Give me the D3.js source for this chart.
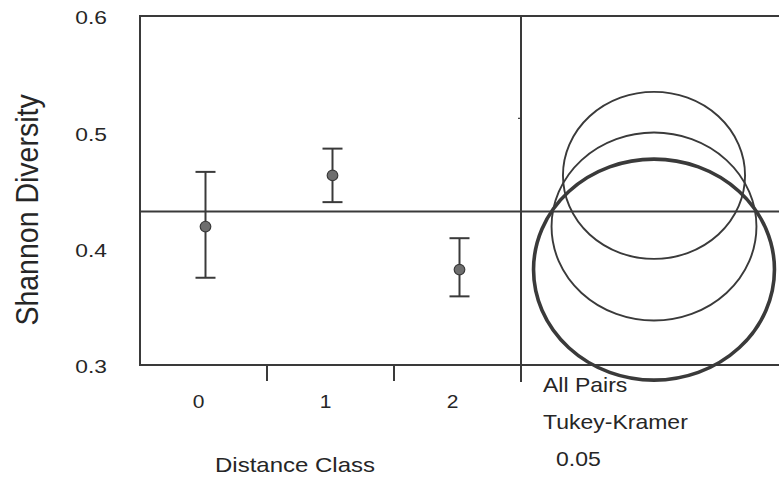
<!DOCTYPE html>
<html><head><meta charset="utf-8">
<script src="https://cdn.jsdelivr.net/npm/d3@7"></script>
<style>
html,body{margin:0;padding:0;background:#fff;}
svg{display:block;}
text{font-family:"Liberation Sans",Arial,Helvetica,sans-serif;fill:#262626;}
</style></head>
<body>
<svg id="chart" width="779" height="481"></svg>
<script>
// ---- data ----
const categories = ["0", "1", "2"];
const means      = [0.419, 0.463, 0.382];
const errUpper   = [0.466, 0.486, 0.409];
const errLower   = [0.375, 0.440, 0.359];
const grandMean  = 0.432;
// comparison circle radii (in y-axis units)
const circleRadii = [0.0808, 0.0718, 0.095];
const selectedGroup = "2";
const yTicks = [0.3, 0.4, 0.5, 0.6];
const yLabel = "Shannon Diversity";
const xLabel = "Distance Class";
const testLabels = ["All Pairs", "Tukey-Kramer", "0.05"];

// ---- layout ----
const W = 779, H = 481;
const pLeft = 140, divider = 521, pTop = 16, pBottom = 365;
const ink = "#3a3a3a";
const textStretch = 1.2;
const svg = d3.select("#chart");

const y = d3.scaleLinear().domain([0.3, 0.6]).range([pBottom, pTop]);
const x = d3.scaleBand().domain(categories).range([pLeft, divider]);

function label(px, py, str, size, anchor, stretch, rotate) {
  const gg = svg.append("g").attr("transform", `translate(${px},${py})`);
  gg.append("text")
    .attr("transform", `scale(${stretch},1)` + (rotate ? ` rotate(${rotate})` : ""))
    .attr("text-anchor", anchor).attr("font-size", size).text(str);
}

// frame
const frame = svg.append("g").attr("stroke", ink).attr("stroke-width", 2).attr("fill", "none");
frame.append("line").attr("x1", pLeft).attr("x2", pLeft).attr("y1", pTop - 1).attr("y2", pBottom + 1);
frame.append("line").attr("x1", pLeft - 1).attr("x2", W).attr("y1", pTop).attr("y2", pTop);
frame.append("line").attr("x1", pLeft - 1).attr("x2", W).attr("y1", pBottom).attr("y2", pBottom);
frame.append("line").attr("x1", divider).attr("x2", divider).attr("y1", pTop).attr("y2", pBottom + 17);
// category boundary ticks
categories.slice(1).forEach(c => {
  frame.append("line").attr("x1", x(c)).attr("x2", x(c)).attr("y1", pBottom).attr("y2", pBottom + 16);
});
// small tick on divider
frame.append("line").attr("x1", divider - 3).attr("x2", divider).attr("y1", y(0.5) - 14).attr("y2", y(0.5) - 14).attr("stroke-width", 1.2);

// grand mean line
svg.append("line").attr("x1", pLeft).attr("x2", W)
  .attr("y1", y(grandMean)).attr("y2", y(grandMean))
  .attr("stroke", ink).attr("stroke-width", 2);

// y axis labels
const yAxis = svg.append("g").attr("transform", `translate(${pLeft},0)`)
  .call(d3.axisLeft(y).tickValues(yTicks).tickSize(0).tickPadding(27.5).tickFormat(d3.format(".1f")));
yAxis.select(".domain").remove();
yAxis.selectAll("text").attr("font-size", 19).attr("dy", "0.42em")
  .attr("transform", `scale(${textStretch},1)`)
  .attr("font-family", "Liberation Sans, Arial, sans-serif").attr("fill", "#262626");

// x axis labels
const xAxis = svg.append("g").attr("transform", `translate(-5,${pBottom})`)
  .call(d3.axisBottom(x).tickSize(0).tickPadding(0));
xAxis.select(".domain").remove();
xAxis.selectAll("text").attr("font-size", 17.5).attr("y", 43).attr("dy", 0)
  .attr("transform", `scale(${textStretch},1)`)
  .attr("font-family", "Liberation Sans, Arial, sans-serif").attr("fill", "#262626");

// axis titles
label(38, 210, yLabel, 28.5, "middle", 1.08, -90);
label(295, 472, xLabel, 20, "middle", textStretch);

// error bars + means
const cap = 10;
const g = svg.append("g").attr("stroke", ink).attr("stroke-width", 2);
categories.forEach((c, i) => {
  const cx = x(c) + x.bandwidth() / 2 + 2;
  g.append("line").attr("x1", cx).attr("x2", cx).attr("y1", y(errUpper[i])).attr("y2", y(errLower[i]));
  g.append("line").attr("x1", cx - cap).attr("x2", cx + cap).attr("y1", y(errUpper[i])).attr("y2", y(errUpper[i]));
  g.append("line").attr("x1", cx - cap).attr("x2", cx + cap).attr("y1", y(errLower[i])).attr("y2", y(errLower[i]));
  svg.append("circle").attr("cx", cx).attr("cy", y(means[i])).attr("r", 5.3)
    .attr("fill", "#6e6e6e").attr("stroke", "#3a3a3a").attr("stroke-width", 1.2);
});

// comparison circles
const ccx = 654, circleStretch = 1.09;
const pxPerUnit = (y(0.3) - y(0.4)) * 10;
categories.forEach((c, i) => {
  const ry = circleRadii[i] * pxPerUnit;
  svg.append("ellipse").attr("cx", ccx).attr("cy", y(means[i]))
    .attr("rx", ry * circleStretch).attr("ry", ry)
    .attr("fill", "none").attr("stroke", ink)
    .attr("stroke-width", c === selectedGroup ? 3.6 : 1.9);
});

// test labels
label(543, 392, testLabels[0], 20, "start", 1.15);
label(543, 429, testLabels[1], 20, "start", 1.15);
label(556, 466, testLabels[2], 20, "start", 1.15);
</script>
</body></html>
